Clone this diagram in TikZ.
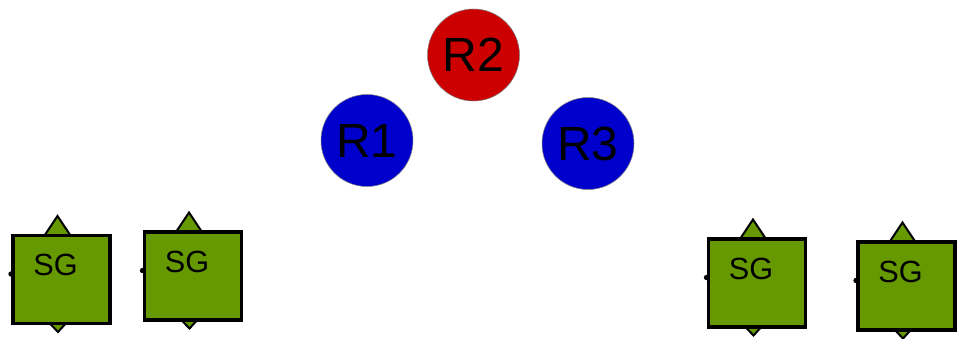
\documentclass[tikz,border=0pt]{standalone}
\usepackage{fontspec}
\setmainfont{Liberation Sans}
\definecolor{sggreen}{HTML}{669900}
\definecolor{rred}{HTML}{CC0000}
\definecolor{rblue}{HTML}{0000CC}

\begin{document}
\begin{tikzpicture}[x = 0.75pt, y = -0.75pt,
	router/.style = {circle, draw = gray, thin, minimum size = 69pt, inner sep = 0pt, font = \fontsize{36}{36}\selectfont},
	sgbox/.style = {rectangle, draw = black, line width = 2.4pt, fill = sggreen, minimum width = 72.75pt, minimum height = 66pt, inner sep = 0pt},
	sgtext/.style = {font = \fontsize{23}{23}\selectfont, xshift = -4.5pt, yshift = 10.9pt},
	port/.style = {fill = sggreen, draw = black, line width = 1.5pt, line join = miter}]
	\useasboundingbox (0,0) rectangle (964,339);
	% routers
	\node [router, fill = rblue] (R1) at (367,140.5) {R1};
	\node [router, fill = rred] (R2) at (473.5,55) {R2};
	\node [router, fill = rblue] (R3) at (588,143.5) {R3};
	% security gateways
	\foreach \x/\y [count = \i] in {61.5/279.5, 193/276, 757/283, 906.5/286} {
		\draw [port] (\x-19,\y-41) -- (\x-4,\y-63.5) -- (\x+11,\y-41) -- cycle;
		\draw [port] (\x-14.5,\y+41) -- (\x-3.5,\y+52.5) -- (\x+7,\y+41) -- cycle;
		\fill (\x-50.5,\y-5.5) circle (2pt);
		\node [sgbox, label = {[sgtext]center:SG}] (sg\i) at (\x,\y) {};
	}
\end{tikzpicture}
\end{document}
